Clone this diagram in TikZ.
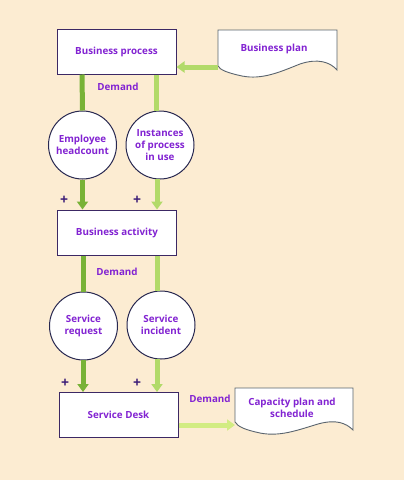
\documentclass[tikz,border=0pt]{standalone}
\usepackage{fontspec}
\setmainfont{Open Sans}
\usetikzlibrary{arrows.meta}
\definecolor{bg}{RGB}{252,236,210}
\definecolor{txt}{RGB}{130,35,210}
\definecolor{boxline}{RGB}{60,40,100}
\definecolor{circline}{RGB}{40,40,80}
\definecolor{plusc}{RGB}{60,30,120}
\definecolor{docline}{RGB}{90,100,110}
\definecolor{gdark}{RGB}{120,178,55}
\definecolor{glight}{RGB}{178,218,105}
\definecolor{gpale}{RGB}{210,236,130}
\begin{document}
\begin{tikzpicture}[x=1pt,y=-1pt,
  every node/.style={font=\fontsize{9.8}{11.8}\selectfont\bfseries, text=txt},
  procbox/.style={draw=boxline, line width=1pt, fill=white, minimum width=119pt, minimum height=45pt, inner sep=0pt},
  circ/.style={draw=circline, line width=1pt, fill=white, circle, minimum size=68pt, inner sep=0pt, align=center},
  docshape/.style={draw=docline, line width=0.9pt, fill=white},
  link/.style={line width=5pt},
  flow/.style={line width=5pt, -{Triangle[width=11pt,length=8pt]}},
  lbl/.style={inner sep=0pt},
  plus/.style={inner sep=0pt, text=plusc, font=\fontsize{14}{14}\selectfont\bfseries}
]
\fill[bg] (0,0) rectangle (404,480);
\useasboundingbox (0,0) rectangle (404,480);

% Business process
\node[procbox] (bp) at (116.5,51.5) {Business process};
% Business plan document
\path[docshape] (218,30) -- (337,30) -- (337,70)
  .. controls (330,62) and (318,58) .. (300,64)
  .. controls (280,72) and (262,80) .. (242,76)
  .. controls (228,73) and (220,70) .. (218,66) -- cycle;
\node[lbl] (bplan) at (274,49) {Business plan};
\coordinate (bplanL) at (218,67);

\draw[flow, glight] (bplanL) -- (bp.east |- bplanL);

\node[lbl] (d1) at (118,87) {Demand};

% circles row 1
\node[circ] (eh) at (82.5,145) {Employee\\headcount};
\node[circ] (ip) at (160,145) {Instances\\of process\\in use};

\draw[link, gdark] (bp.south -| 82,0) -- (eh.north);
\draw[link, glight] (bp.south -| 156,0) -- (156,111);

% Business activity
\node[procbox] (ba) at (117,232.5) {Business activity};

\draw[flow, gdark] (eh.south) -- (ba.north -| eh.south);
\draw[flow, glight] (157,179) -- (ba.north -| 157,0);
\node[plus] (p1) at (64,200) {+};
\node[plus] (p2) at (137,200) {+};

\node[lbl] (d2) at (117,272) {Demand};

% circles row 2
\node[circ] (sr) at (83.5,326) {Service\\request};
\node[circ] (si) at (161,325) {Service\\incident};

\draw[link, gdark] (ba.south -| 83,0) -- (83,292);
\draw[link, glight] (ba.south -| 157,0) -- (157,291);

% Service Desk
\node[procbox] (sd) at (118.5,415) {Service Desk};

\draw[flow, gdark] (83,360) -- (sd.north -| 83,0);
\draw[flow, glight] (157,359) -- (sd.north -| 157,0);
\node[plus] (p3) at (65,383) {+};
\node[plus] (p4) at (137,383) {+};

% Capacity plan document
\path[docshape] (235,388) -- (353,388) -- (353,430)
  .. controls (346,423) and (336,419) .. (318,424)
  .. controls (298,430) and (280,437) .. (260,433)
  .. controls (246,430) and (238,427) .. (235,422) -- cycle;
\node[lbl, align=center] (cap) at (292,408) {Capacity plan and\\schedule};
\coordinate (capL) at (235,425);

\node[lbl] (d3) at (210,399) {Demand};
\draw[flow, gpale] (sd.east |- capL) -- (capL);
\end{tikzpicture}
\end{document}
